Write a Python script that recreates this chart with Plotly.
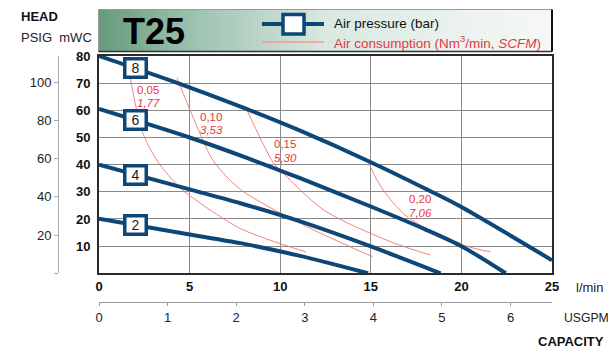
import numpy as np
import plotly.graph_objects as go

# Pump performance: head (mWC) vs capacity (l/min) at several air pressures
flow_2bar = [0, 5, 7.8, 11.1, 14.85]
head_2bar = [20.1, 14.3, 11.1, 6.4, 0]
flow_4bar = [0, 5, 7.8, 11.1, 15, 18.85]
head_4bar = [40, 30.9, 25.8, 19.1, 9.9, 0]
flow_6bar = [0, 5, 8.2, 11.1, 15, 18, 20, 22.45]
head_6bar = [60.5, 50.0, 42.4, 35.0, 24.6, 16.2, 10, 0]
flow_8bar = [0, 4.35, 8.1, 11.1, 15, 18.3, 20, 25]
head_8bar = [80, 70, 60.6, 52.5, 40.9, 30.2, 24.4, 4.8]
pressures = [2, 4, 6, 8]

# Air consumption iso-lines (Nm3/min and SCFM)
air_nm3 = [0.05, 0.10, 0.15, 0.20]
air_scfm = [1.77, 3.53, 5.30, 7.06]
flow_c05 = [1.7, 2.39, 3.25, 4.42, 5.0, 7.8, 11.4]
head_c05 = [73, 52.1, 41, 31.8, 28.6, 16.5, 7.9]
flow_c10 = [4.3, 5.53, 6.3, 7.8, 11.5, 15.1]
head_c10 = [72, 52.1, 41.5, 30.9, 17.1, 6.1]
flow_c15 = [8.1, 9.6, 10.0, 12.4, 16.1, 18.3]
head_c15 = [61, 40.9, 38, 23.3, 11.6, 6.7]
flow_c20 = [14.8, 15.5, 17.0, 20.1, 21.6]
head_c20 = [42, 32.5, 20.8, 10.4, 7.9]

flow_ticks = [0, 5, 10, 15, 20, 25]
head_ticks = [10, 20, 30, 40, 50, 60, 70, 80]
psig_ticks = [0, 20, 40, 60, 80, 100]
gpm_ticks = [0, 1, 2, 3, 4, 5, 6]

LPM_PER_GPM = 3.785
MWC_PER_PSI = 0.70307

# anchor points for the consumption labels (l/min, mWC)
label_at = [(1.99, 67.6), (5.48, 57.6), (9.55, 47.5), (16.98, 27.2)]
box_flow = 2.0

NAVY = "#0d4777"
RED_LINE = "#f27474"
RED_TEXT = "#e5383f"
FONT = "Liberation Sans, Arial, sans-serif"

W, H = 608, 351
ML, MR, MT, MB = 58, 56, 56, 49


def PX(p):
    return (p - ML) / (W - ML - MR)


def PY(p):
    return (H - MB - p) / (H - MT - MB)


perf = {2: (flow_2bar, head_2bar), 4: (flow_4bar, head_4bar),
        6: (flow_6bar, head_6bar), 8: (flow_8bar, head_8bar)}
cons = [(flow_c05, head_c05), (flow_c10, head_c10),
        (flow_c15, head_c15), (flow_c20, head_c20)]

fig = go.Figure()

for fx, hy in cons:
    fig.add_trace(go.Scatter(x=fx, y=hy, mode="lines",
                             line=dict(color=RED_LINE, width=0.9, shape="spline", smoothing=0.8),
                             hoverinfo="skip", showlegend=False))

for p in pressures:
    fx, hy = perf[p]
    fig.add_trace(go.Scatter(x=fx, y=hy, mode="lines",
                             line=dict(color=NAVY, width=4, shape="spline", smoothing=0.8),
                             hoverinfo="skip", showlegend=False))

# carrier trace for the secondary (USGPM / PSIG) axes
fig.add_trace(go.Scatter(x=[0, 25 / LPM_PER_GPM], y=[0, 80 / MWC_PER_PSI],
                         xaxis="x2", yaxis="y2", mode="lines",
                         line=dict(width=0, color="rgba(0,0,0,0)"),
                         hoverinfo="skip", showlegend=False))

annotations = []

# pressure boxes sitting on each curve
for p in pressures:
    fx, hy = perf[p]
    annotations.append(dict(x=box_flow, y=float(np.interp(box_flow, fx, hy)),
                            xref="x", yref="y", text=str(p), showarrow=False,
                            font=dict(family=FONT, size=14, color="#1a1a1a"),
                            bgcolor="white", bordercolor=NAVY, borderwidth=3.5,
                            borderpad=0, width=18, height=15))

# consumption labels
for (lx, ly), q, s in zip(label_at, air_nm3, air_scfm):
    annotations.append(dict(x=lx, y=ly, xref="x", yref="y", xanchor="left",
                            text=f"{q:.2f}".replace(".", ","), showarrow=False,
                            font=dict(family=FONT, size=11.5, color=RED_TEXT)))
    annotations.append(dict(x=lx, y=ly - 5, xref="x", yref="y", xanchor="left",
                            text="<i>" + f"{s:.2f}".replace(".", ",") + "</i>", showarrow=False,
                            font=dict(family=FONT, size=11.5, color=RED_TEXT)))

txt = dict(xref="paper", yref="paper", showarrow=False, yanchor="middle")
annotations += [
    dict(x=PX(19), y=PY(16), xanchor="left", text="<b>HEAD</b>",
         font=dict(family=FONT, size=13, color="#111"), **txt),
    dict(x=PX(19), y=PY(37), xanchor="left", text="PSIG&nbsp;&nbsp;mWC",
         font=dict(family=FONT, size=13, color="#222"), **txt),
    dict(x=PX(574), y=PY(287), xanchor="left", text="l/min",
         font=dict(family=FONT, size=13, color="#222"), **txt),
    dict(x=PX(562), y=PY(318), xanchor="left", text="USGPM",
         font=dict(family=FONT, size=12.2, color="#222"), **txt),
    dict(x=PX(606), y=PY(341), xanchor="right", text="<b>CAPACITY</b>",
         font=dict(family=FONT, size=13, color="#111"), **txt),
    dict(x=PX(121), y=PY(31), xanchor="left", text="<b>T25</b>",
         font=dict(family=FONT, size=36, color="#000"), **txt),
    dict(x=PX(332), y=PY(24), xanchor="left", text="Air pressure (bar)",
         font=dict(family=FONT, size=13.5, color="#111"), **txt),
    dict(x=PX(332), y=PY(42), xanchor="left",
         text="Air consumption (Nm<sup>3</sup>/min, <i>SCFM</i>)",
         font=dict(family=FONT, size=13.5, color=RED_TEXT), **txt),
]

# header banner with a green-to-white gradient
shapes = []
hx0, hx1, hy0, hy1 = 98.5, 552, 9.5, 51.5
stops = [(0.0, (104, 154, 126)), (0.22, (158, 195, 176)),
         (0.5, (218, 232, 225)), (1.0, (246, 248, 247))]
n = 91
for i in range(n):
    t = (i + 0.5) / n
    for (t0, c0), (t1, c1) in zip(stops[:-1], stops[1:]):
        if t0 <= t <= t1:
            f = (t - t0) / (t1 - t0)
            c = tuple(int(round(a + (b - a) * f)) for a, b in zip(c0, c1))
            break
    xa = hx0 + (hx1 - hx0) * i / n
    xb = hx0 + (hx1 - hx0) * (i + 1) / n + 0.6
    shapes.append(dict(type="rect", xref="paper", yref="paper",
                       x0=PX(xa), x1=PX(min(xb, hx1)), y0=PY(hy1), y1=PY(hy0),
                       fillcolor=f"rgb{c}", line=dict(width=0), layer="below"))
shapes += [
    dict(type="rect", xref="paper", yref="paper", x0=PX(hx0), x1=PX(hx1),
         y0=PY(hy1), y1=PY(hy0), line=dict(color="#9a9a9a", width=1)),
    dict(type="line", xref="paper", yref="paper", x0=PX(hx1), x1=PX(hx1),
         y0=PY(hy1), y1=PY(hy0), line=dict(color="#111", width=2)),
    dict(type="line", xref="paper", yref="paper", x0=PX(hx0), x1=PX(hx1),
         y0=PY(hy1), y1=PY(hy1), line=dict(color="#333", width=1.5)),
    # legend symbols
    dict(type="line", xref="paper", yref="paper", x0=PX(262), x1=PX(324),
         y0=PY(24), y1=PY(24), line=dict(color=NAVY, width=4)),
    dict(type="rect", xref="paper", yref="paper", x0=PX(283), x1=PX(304),
         y0=PY(34), y1=PY(14.5), fillcolor="white", line=dict(color=NAVY, width=3.5)),
    dict(type="line", xref="paper", yref="paper", x0=PX(262), x1=PX(324),
         y0=PY(42), y1=PY(42), line=dict(color="#f39a8e", width=1.5)),
]

x0_dom = PX(99)
y0_dom = PY(273.3)
axis_font_bold = dict(family=FONT, size=13, color="#111", weight="bold")
axis_font = dict(family=FONT, size=13, color="#222")

fig.update_layout(
    width=W, height=H, autosize=False,
    margin=dict(l=ML, r=MR, t=MT, b=MB, pad=0),
    paper_bgcolor="white", plot_bgcolor="white",
    showlegend=False,
    xaxis=dict(domain=[x0_dom, 1], range=[0, 25], tickvals=flow_ticks,
               showgrid=True, gridcolor="#8a8a8a", gridwidth=1, zeroline=False,
               showline=True, mirror=True, linecolor="#2b2b2b", linewidth=2,
               ticks="", tickfont=axis_font_bold, anchor="y"),
    yaxis=dict(domain=[y0_dom, 1], range=[0, 80], tickvals=head_ticks,
               showgrid=True, gridcolor="#8a8a8a", gridwidth=1, zeroline=False,
               showline=True, mirror=True, linecolor="#2b2b2b", linewidth=2,
               ticks="", tickfont=axis_font_bold, ticklabelstandoff=4, anchor="x"),
    xaxis2=dict(overlaying="x", anchor="free", position=0, side="bottom",
                domain=[x0_dom, 1], range=[0, 25 / LPM_PER_GPM], tickvals=gpm_ticks,
                showgrid=False, zeroline=False, showline=True, linecolor="#9a9a9a",
                linewidth=1, ticks="outside", ticklen=3, tickcolor="#9a9a9a",
                tickfont=axis_font),
    yaxis2=dict(overlaying="y", anchor="free", position=0, side="left",
                domain=[y0_dom, 1], range=[0, 80 / MWC_PER_PSI], tickvals=psig_ticks,
                ticktext=["" if v == 0 else str(v) for v in psig_ticks],
                showgrid=False, zeroline=False, showline=True, linecolor="#a8a8a8",
                linewidth=1, ticks="outside", ticklen=4, tickcolor="#a8a8a8",
                tickfont=axis_font),
    annotations=annotations,
    shapes=shapes,
)

fig.write_html("out.html")
